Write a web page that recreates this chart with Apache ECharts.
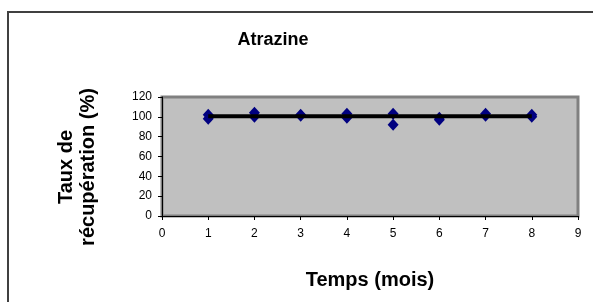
<!DOCTYPE html>
<html>
<head>
<meta charset="utf-8">
<script src="https://cdn.jsdelivr.net/npm/echarts@6/dist/echarts.min.js"></script>
<style>
  html, body { margin: 0; padding: 0; background: #fff; }
  #chart { width: 593px; height: 302px; }
</style>
</head>
<body>
<div id="chart"></div>
<script>
// measured points (month, recovery %)
var months = [1, 1, 2, 2, 3, 3, 4, 4, 5, 5, 6, 6, 7, 7, 8, 8];
var rates = [102, 98, 104, 100, 102, 101, 103, 99, 103, 92, 99, 97, 103, 101, 102, 100];
// horizontal average line
var lineX = [1, 8];
var lineY = [100.5, 100.5];

var font = 'Liberation Sans, Arial, sans-serif';

var points = months.map(function (m, i) { return [m, rates[i]]; });
var linePts = lineX.map(function (x, i) { return [x, lineY[i]]; });

var myChart = echarts.init(document.getElementById('chart'));
var option = {
  animation: false,
  title: {
    text: 'Atrazine',
    left: 268,
    top: 26,
    textAlign: 'center',
    textStyle: { fontFamily: font, fontSize: 18, fontWeight: 'bold', color: '#000' }
  },
  graphic: [
    {
      type: 'rect',
      shape: { x: 8, y: 12, width: 700, height: 400 },
      style: { fill: 'none', stroke: '#404040', lineWidth: 2 },
      silent: true
    },
    {
      type: 'text',
      x: 77,
      y: 167,
      rotation: Math.PI / 2,
      style: {
        text: 'Taux de\nrécupération (%)',
        fontFamily: font,
        fontSize: 20,
        fontWeight: 'bold',
        lineHeight: 22,
        fill: '#000',
        align: 'center',
        verticalAlign: 'middle'
      }
    }
  ],
  grid: {
    left: 162, right: 15, top: 97, bottom: 86,
    show: true,
    backgroundColor: '#C0C0C0',
    borderColor: '#808080',
    borderWidth: 3
  },
  xAxis: {
    type: 'value',
    min: 0, max: 9, interval: 1,
    name: 'Temps (mois)',
    nameLocation: 'middle',
    nameGap: 54,
    nameTextStyle: { fontFamily: font, fontSize: 20, fontWeight: 'bold', color: '#000' },
    splitLine: { show: false },
    axisLine: { lineStyle: { color: '#000', width: 1 } },
    axisTick: { show: true, length: 4, lineStyle: { color: '#000' } },
    axisLabel: { fontFamily: font, fontSize: 12, color: '#000', margin: 12 }
  },
  yAxis: {
    type: 'value',
    min: 0, max: 120, interval: 20,
    splitLine: { show: false },
    axisLine: { show: true, lineStyle: { color: '#000', width: 1 } },
    axisTick: { show: true, length: 4, lineStyle: { color: '#000' } },
    axisLabel: { fontFamily: font, fontSize: 12, color: '#000', margin: 10 }
  },
  series: [
    {
      type: 'scatter',
      data: points,
      symbol: 'diamond',
      symbolSize: [11, 12],
      itemStyle: { color: '#000080', opacity: 1 },
      z: 2
    },
    {
      type: 'line',
      data: linePts,
      symbol: 'none',
      lineStyle: { color: '#000', width: 4 },
      z: 3
    }
  ]
};
myChart.setOption(option);
</script>
</body>
</html>
